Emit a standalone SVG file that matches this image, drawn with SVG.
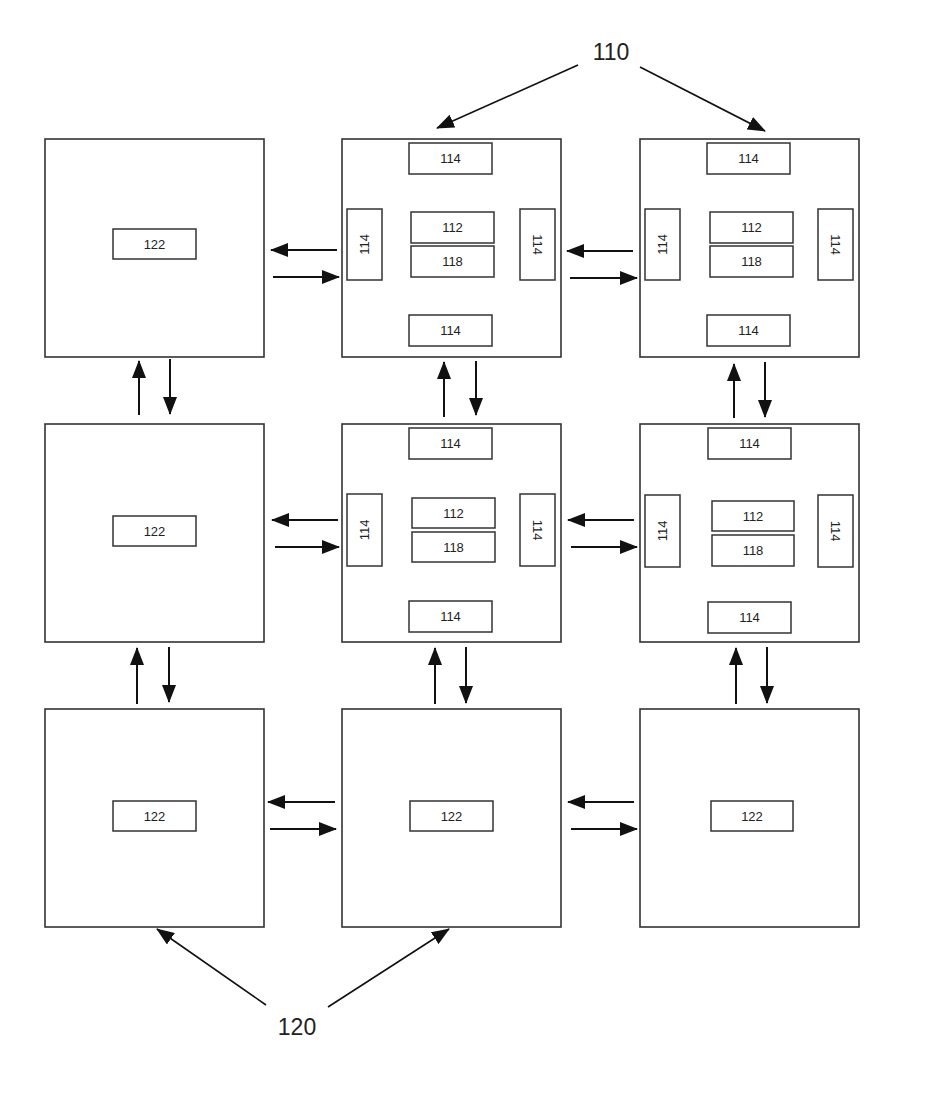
<svg xmlns="http://www.w3.org/2000/svg" width="940" height="1111" viewBox="0 0 940 1111">
<style>
.box{fill:#fff;stroke:#333;stroke-width:1.6}
.sub{fill:#fff;stroke:#333;stroke-width:1.5}
.t{font-family:"Liberation Sans",Arial,sans-serif;font-size:13px;fill:#222;text-anchor:middle;dominant-baseline:central}
.big{font-family:"Liberation Sans",Arial,sans-serif;font-size:23px;fill:#222;text-anchor:middle}
.c{stroke:#111;stroke-width:2;fill:none;marker-end:url(#ah)}
.l{stroke:#111;stroke-width:1.6;fill:none;marker-end:url(#ah2)}
</style>
<defs>
<marker id="ah" viewBox="0 0 18 14" refX="17" refY="7" markerWidth="18" markerHeight="14" markerUnits="userSpaceOnUse" orient="auto"><path d="M0,0 L18,7 L0,14 z" fill="#111"/></marker>
<marker id="ah2" viewBox="0 0 18 14" refX="17" refY="7" markerWidth="18" markerHeight="14" markerUnits="userSpaceOnUse" orient="auto"><path d="M0,0 L18,7 L0,14 z" fill="#111"/></marker>
</defs>
<rect width="940" height="1111" fill="#fff"/>

<g id="n-r1c1">
<rect class="box" x="45" y="139" width="219" height="218"/>
<rect class="sub" x="113" y="229" width="83" height="30"/><text class="t" x="154.5" y="244">122</text>
</g>
<g id="n-r1c2">
<rect class="box" x="342" y="139" width="219" height="218"/>
<rect class="sub" x="409" y="143" width="83" height="31"/><text class="t" x="450.5" y="158.5">114</text>
<rect class="sub" x="347" y="209" width="35" height="71"/><text class="t" transform="translate(364.5,244.5) rotate(-90)">114</text>
<rect class="sub" x="520" y="209" width="35" height="71"/><text class="t" transform="translate(537.5,244.5) rotate(90)">114</text>
<rect class="sub" x="411" y="212" width="83" height="31"/><text class="t" x="452.5" y="227.5">112</text>
<rect class="sub" x="411" y="246" width="83" height="31"/><text class="t" x="452.5" y="261.5">118</text>
<rect class="sub" x="409" y="315" width="83" height="31"/><text class="t" x="450.5" y="330.5">114</text>
</g>
<g id="n-r1c3">
<rect class="box" x="640" y="139" width="219" height="218"/>
<rect class="sub" x="707" y="143" width="83" height="31"/><text class="t" x="748.5" y="158.5">114</text>
<rect class="sub" x="645" y="209" width="35" height="71"/><text class="t" transform="translate(662.5,244.5) rotate(-90)">114</text>
<rect class="sub" x="818" y="209" width="35" height="71"/><text class="t" transform="translate(835.5,244.5) rotate(90)">114</text>
<rect class="sub" x="710" y="212" width="83" height="31"/><text class="t" x="751.5" y="227.5">112</text>
<rect class="sub" x="710" y="246" width="83" height="31"/><text class="t" x="751.5" y="261.5">118</text>
<rect class="sub" x="707" y="315" width="83" height="31"/><text class="t" x="748.5" y="330.5">114</text>
</g>

<g id="n-r2c1">
<rect class="box" x="45" y="424" width="219" height="218"/>
<rect class="sub" x="113" y="516" width="83" height="30"/><text class="t" x="154.5" y="531">122</text>
</g>
<g id="n-r2c2">
<rect class="box" x="342" y="424" width="219" height="218"/>
<rect class="sub" x="409" y="428" width="83" height="31"/><text class="t" x="450.5" y="443.5">114</text>
<rect class="sub" x="347" y="494" width="35" height="72"/><text class="t" transform="translate(364.5,530) rotate(-90)">114</text>
<rect class="sub" x="520" y="494" width="35" height="72"/><text class="t" transform="translate(537.5,530) rotate(90)">114</text>
<rect class="sub" x="412" y="498" width="83" height="30"/><text class="t" x="453.5" y="513">112</text>
<rect class="sub" x="412" y="532" width="83" height="30"/><text class="t" x="453.5" y="547">118</text>
<rect class="sub" x="409" y="601" width="83" height="31"/><text class="t" x="450.5" y="616.5">114</text>
</g>
<g id="n-r2c3">
<rect class="box" x="640" y="424" width="219" height="218"/>
<rect class="sub" x="708" y="428" width="83" height="31"/><text class="t" x="749.5" y="443.5">114</text>
<rect class="sub" x="645" y="495" width="35" height="72"/><text class="t" transform="translate(662.5,531) rotate(-90)">114</text>
<rect class="sub" x="818" y="495" width="35" height="72"/><text class="t" transform="translate(835.5,531) rotate(90)">114</text>
<rect class="sub" x="712" y="501" width="82" height="30"/><text class="t" x="753" y="516">112</text>
<rect class="sub" x="712" y="535" width="82" height="31"/><text class="t" x="753" y="550.5">118</text>
<rect class="sub" x="708" y="602" width="83" height="31"/><text class="t" x="749.5" y="617.5">114</text>
</g>

<g id="n-r3c1">
<rect class="box" x="45" y="709" width="219" height="218"/>
<rect class="sub" x="113" y="801" width="83" height="30"/><text class="t" x="154.5" y="816">122</text>
</g>
<g id="n-r3c2">
<rect class="box" x="342" y="709" width="219" height="218"/>
<rect class="sub" x="410" y="801" width="83" height="30"/><text class="t" x="451.5" y="816">122</text>
</g>
<g id="n-r3c3">
<rect class="box" x="640" y="709" width="219" height="218"/>
<rect class="sub" x="711" y="801" width="82" height="30"/><text class="t" x="752" y="816">122</text>
</g>

<g id="connectors">
<!-- row 1 horizontal -->
<line class="c" x1="337" y1="250" x2="271" y2="250"/>
<line class="c" x1="273" y1="277" x2="339" y2="277"/>
<line class="c" x1="633" y1="251" x2="567" y2="251"/>
<line class="c" x1="570" y1="278" x2="637" y2="278"/>
<!-- row 2 horizontal -->
<line class="c" x1="338" y1="520" x2="272" y2="520"/>
<line class="c" x1="275" y1="547" x2="339" y2="547"/>
<line class="c" x1="634" y1="520" x2="568" y2="520"/>
<line class="c" x1="571" y1="547" x2="637" y2="547"/>
<!-- row 3 horizontal -->
<line class="c" x1="335" y1="802" x2="268" y2="802"/>
<line class="c" x1="270" y1="829" x2="336" y2="829"/>
<line class="c" x1="634" y1="802" x2="568" y2="802"/>
<line class="c" x1="571" y1="829" x2="637" y2="829"/>
<!-- rows 1-2 vertical -->
<line class="c" x1="139" y1="415" x2="139" y2="361"/>
<line class="c" x1="170" y1="359" x2="170" y2="414"/>
<line class="c" x1="444" y1="417" x2="444" y2="362"/>
<line class="c" x1="476" y1="361" x2="476" y2="415"/>
<line class="c" x1="734" y1="418" x2="734" y2="364"/>
<line class="c" x1="765" y1="362" x2="765" y2="417"/>
<!-- rows 2-3 vertical -->
<line class="c" x1="137" y1="704" x2="137" y2="648"/>
<line class="c" x1="169" y1="647" x2="169" y2="702"/>
<line class="c" x1="435" y1="704" x2="435" y2="648"/>
<line class="c" x1="466" y1="647" x2="466" y2="703"/>
<line class="c" x1="736" y1="704" x2="736" y2="648"/>
<line class="c" x1="767" y1="647" x2="767" y2="703"/>
<!-- reference leaders -->
<line class="l" x1="578" y1="65" x2="437" y2="128"/>
<line class="l" x1="640" y1="67" x2="765" y2="131"/>
<line class="l" x1="266" y1="1005" x2="157" y2="929"/>
<line class="l" x1="328" y1="1007" x2="449" y2="929"/>
</g>

<g id="labels">
<text class="big" x="611" y="60">110</text>
<text class="big" x="297" y="1035">120</text>
</g>
</svg>
